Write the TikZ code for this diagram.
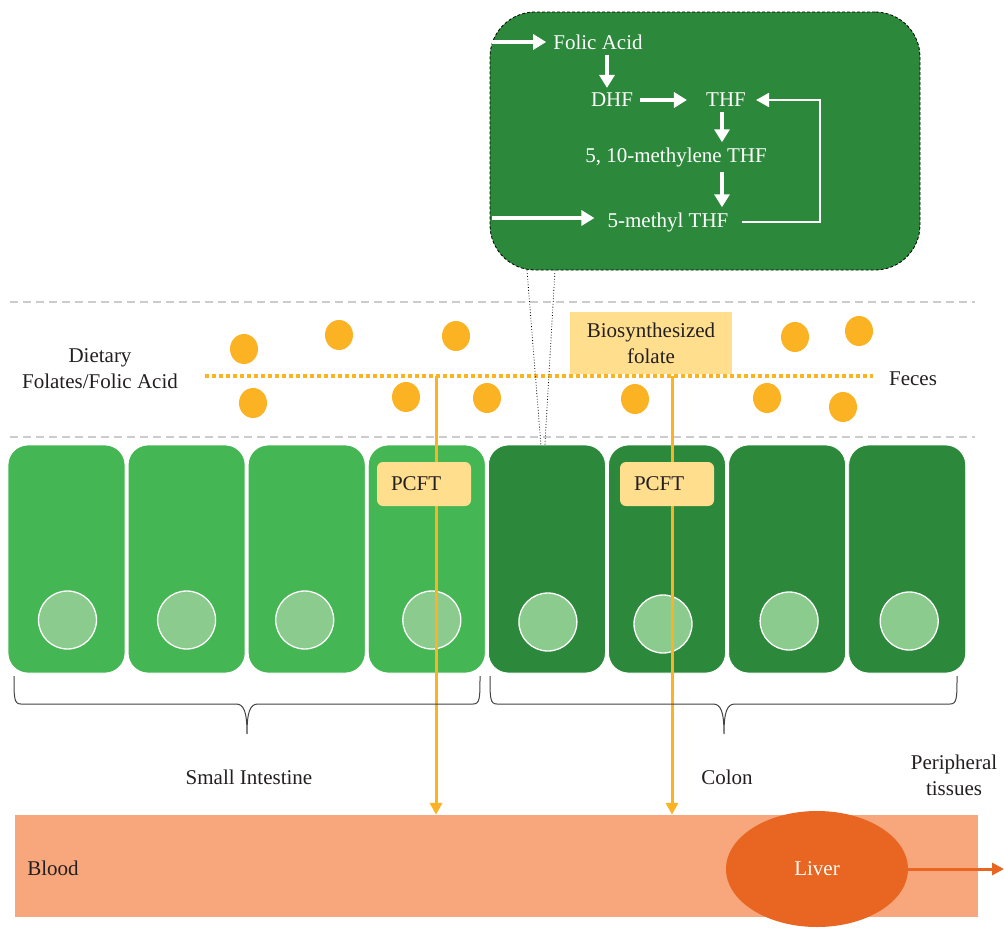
\documentclass[tikz,border=0pt]{standalone}
\usepackage{fontspec}
\setmainfont{Liberation Serif}
\usepackage{tikz}
\usetikzlibrary{shapes,arrows.meta,positioning}

\definecolor{dgreen}{RGB}{44,136,58}
\definecolor{lgreen}{RGB}{68,182,83}
\definecolor{nuc}{RGB}{140,203,142}
\definecolor{dotor}{RGB}{251,179,35}
\definecolor{pale}{RGB}{255,223,142}
\definecolor{bloodc}{RGB}{247,167,123}
\definecolor{liverc}{RGB}{232,102,34}
\definecolor{txt}{RGB}{35,31,32}

\begin{document}
\begin{tikzpicture}[x=1pt, y=-1pt, font=\fontsize{21}{26}\selectfont, text=txt]
        % Define styles
        \tikzstyle{cellS} = [rectangle, draw=white, line width=0.8pt, fill=lgreen, rounded corners=20pt, minimum width=117pt, minimum height=228pt]
        \tikzstyle{cellC} = [cellS, fill=dgreen]
        \tikzstyle{nucleus} = [circle, draw=white, line width=1.3pt, fill=nuc, minimum size=58pt, inner sep=0pt]
        \tikzstyle{folate} = [ellipse, fill=dotor, minimum width=28pt, minimum height=30pt, inner sep=0pt]
        \tikzstyle{pcft} = [rectangle, fill=pale, rounded corners=6pt, minimum height=44pt, text width=66pt, inner xsep=14pt, align=left]
        \tikzstyle{met} = [text=white, inner sep=5pt]
        \tikzstyle{warrow} = [white, line width=3.5pt, -{Triangle[length=13pt,width=15pt]}]
        \tikzstyle{oarrow} = [dotor, line width=3pt, -{Triangle[length=12pt,width=12pt]}]
        \tikzstyle{sep} = [gray!40, line width=1.2pt, dash pattern=on 8pt off 5pt]
        \tikzstyle{brc} = [txt!85, line width=1pt]

        \useasboundingbox (0,0) rectangle (1004,929);

        % Folate metabolism in the colonocyte
        \node [draw=black, line width=0.8pt, dash pattern=on 3pt off 2pt, fill=dgreen, rounded corners=45pt, minimum width=430pt, minimum height=258pt] (zoom) at (705,141) {};
        \node [met] (fa) at (598,42) {Folic Acid};
        \node [met] (dhf) at (612,100) {DHF};
        \node [met] (thf) at (726,100) {THF};
        \node [met] (meth) at (676,157) {5, 10-methylene THF};
        \node [met] (mthf) at (668,222) {5-methyl THF};
        \coordinate (in1) at (492,42);
        \coordinate (in2) at (492,218);

        \draw [warrow, shorten >=2pt] (in1) -- (in1 -| fa.west);
        \draw [warrow] ([xshift=9pt]fa.south) -- ([xshift=-5pt]dhf.north);
        \draw [warrow, shorten <=2pt, shorten >=14pt] (dhf.east) -- (thf.west);
        \draw [warrow] ([xshift=-4pt]thf.south) -- ([xshift=46pt]meth.north);
        \draw [warrow] ([xshift=46pt]meth.south) -- ([xshift=54pt]mthf.north);
        \draw [warrow, shorten >=8pt] (in2) -- (in2 -| mthf.west);
        \draw [white, line width=2pt, -{Triangle[length=13pt,width=14pt]}, shorten <=8pt] (mthf.east) -| (820,100) -- ([xshift=5pt]thf.east);

        % Lumen
        \draw [sep] (10,302) -- (975,302);
        \draw [sep] (10,437) -- (975,437);
        \coordinate (lumL) at (205,376);
        \coordinate (lumR) at (873,376);
        \draw [dotor, line width=4pt, dash pattern=on 4pt off 3pt] (lumL) -- (lumR);
        \node [align=center] (diet) at (100,369) {Dietary\\Folates/Folic Acid};
        \node (feces) at (913,379) {Feces};
        \node [fill=pale, minimum width=162pt, minimum height=62pt, align=center] (bio) at (651,343) {Biosynthesized\\folate};

        \node [folate] (f1) at (244,349) {};
        \node [folate] (f2) at (339,335) {};
        \node [folate] (f3) at (456,336) {};
        \node [folate] (f4) at (253,403) {};
        \node [folate] (f5) at (406,397) {};
        \node [folate] (f6) at (487,398) {};
        \node [folate] (f7) at (635,399) {};
        \node [folate] (f8) at (767,398) {};
        \node [folate] (f9) at (795,337) {};
        \node [folate] (f10) at (859,331) {};
        \node [folate] (f11) at (843,407) {};

        % Epithelium
        \node [cellS] (c1) at (66.5,559) {};
        \node [cellS, right=2.3pt of c1] (c2) {};
        \node [cellS, right=2.3pt of c2] (c3) {};
        \node [cellS, right=2.3pt of c3] (c4) {};
        \node [cellC, right=2.3pt of c4] (c5) {};
        \node [cellC, right=2.3pt of c5] (c6) {};
        \node [cellC, right=2.3pt of c6] (c7) {};
        \node [cellC, right=2.3pt of c7] (c8) {};

        \node [nucleus] (n1) at ([xshift=1pt,yshift=-61pt]c1.center) {};
        \node [nucleus] (n2) at ([yshift=-61pt]c2.center) {};
        \node [nucleus] (n3) at ([xshift=-2pt,yshift=-61pt]c3.center) {};
        \node [nucleus] (n4) at ([xshift=5pt,yshift=-61pt]c4.center) {};
        \node [nucleus] (n5) at ([xshift=1pt,yshift=-63pt]c5.center) {};
        \node [nucleus] (n6) at ([xshift=-4pt,yshift=-65pt]c6.center) {};
        \node [nucleus] (n7) at ([xshift=2pt,yshift=-62pt]c7.center) {};
        \node [nucleus] (n8) at ([xshift=2pt,yshift=-62pt]c8.center) {};

        \draw [black, line width=0.8pt, dotted] ([xshift=-178pt]zoom.south) -- ([xshift=-6pt]c5.north);
        \draw [black, line width=0.8pt, dotted] ([xshift=-150pt]zoom.south) -- ([xshift=-2pt]c5.north);

        % Blood and liver
        \node [fill=bloodc, minimum width=963pt, minimum height=102pt, inner sep=0pt] (blood) at (496.5,866) {};
        \node (bl) at (53,868) {Blood};
        \node [ellipse, fill=liverc, minimum width=182pt, minimum height=116pt, text=white] (liver) at (817,869) {Liver};
        \coordinate (out) at (1004,869);
        \draw [liverc, line width=3pt, -{Triangle[length=12pt,width=12pt]}] (liver.east) -- (out);

        % Transport
        \coordinate (t1) at (436,376);
        \coordinate (t2) at (672,376);
        \draw [oarrow] (t1) -- (t1 |- blood.north);
        \draw [oarrow] (t2) -- (t2 |- blood.north);
        \node [pcft] (p1) at (424,484) {PCFT};
        \node [pcft] (p2) at (667,484) {PCFT};

        % Braces
        \draw [brc] (14,676) .. controls (14,698) and (14,704) .. (21,704) -- (236,704)
            .. controls (244,704) and (247,712) .. (247,734)
            .. controls (247,712) and (250,704) .. (258,704) -- (473,704)
            .. controls (480,704) and (480,698) .. (480,676);
        \draw [brc] (490,676) .. controls (490,698) and (490,704) .. (497,704) -- (713,704)
            .. controls (721,704) and (724,712) .. (724,734)
            .. controls (724,712) and (727,704) .. (735,704) -- (950,704)
            .. controls (957,704) and (957,698) .. (957,676);
        \node (si) at (249,777) {Small Intestine};
        \node (colon) at (727,777) {Colon};
        \node [align=center] (peri) at (954,775) {Peripheral\\tissues};
    \end{tikzpicture}
\end{document}
